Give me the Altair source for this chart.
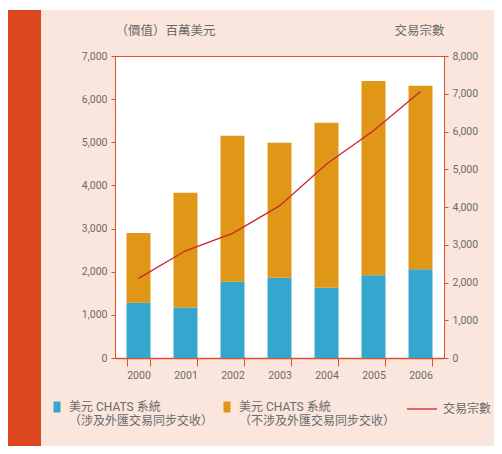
import altair as alt
import pandas as pd

years = ["2000", "2001", "2002", "2003", "2004", "2005", "2006"]
pvp_values = [1280, 1170, 1770, 1860, 1630, 1920, 2060]        # 美元 CHATS 系統（涉及外匯交易同步交收）
non_pvp_values = [1620, 2660, 3380, 3130, 3820, 4500, 4250]    # 美元 CHATS 系統（不涉及外匯交易同步交收）
transactions = [2110, 2840, 3300, 4030, 5140, 6020, 7060]     # 交易宗數

series_names = [
    "美元 CHATS 系統|（涉及外匯交易同步交收）",
    "美元 CHATS 系統|（不涉及外匯交易同步交收）",
]
line_name = "交易宗數"
left_ticks = [0, 1000, 2000, 3000, 4000, 5000, 6000, 7000]
right_ticks = [0, 1000, 2000, 3000, 4000, 5000, 6000, 7000, 8000]

BLUE = "#35a7ce"
ORANGE = "#e09616"
LINE_RED = "#c8282a"
AXIS_RED = "#e0502a"
BAND_RED = "#dc471f"
PEACH = "#fae6dc"
TEXT = "#6a6a6a"
FONT = "Roboto, 'Noto Sans CJK TC', sans-serif"

rows = []
for i, y in enumerate(years):
    rows.append({"year": y, "series": series_names[0], "value": pvp_values[i], "ord": 0})
    rows.append({"year": y, "series": series_names[1], "value": non_pvp_values[i], "ord": 1})
bar_df = pd.DataFrame(rows)
line_df = pd.DataFrame({"year": years, "count": transactions, "label": [line_name] * len(years)})
one = pd.DataFrame({"k": [0]})

W, H = 329, 302

band = alt.Chart(one).mark_rect(color=BAND_RED).encode(
    x=alt.value(-107), x2=alt.value(-74), y=alt.value(-46), y2=alt.value(400)
)
strip = alt.Chart(one).mark_rect(color="white").encode(
    x=alt.value(-107), x2=alt.value(387), y=alt.value(-48), y2=alt.value(-46)
)

x_enc = alt.X(
    "year:N",
    sort=years,
    scale=alt.Scale(paddingInner=0.49, paddingOuter=0.245),
    axis=alt.Axis(
        title=None, labelAngle=0, tickBand="extent", tickSize=8, tickColor=AXIS_RED,
        domainColor=AXIS_RED, domainWidth=1.5, labelPadding=4, labelFontSize=10.5,
        labelColor=TEXT, labelFont=FONT,
    ),
)

bars = alt.Chart(bar_df).mark_bar().encode(
    x=x_enc,
    y=alt.Y(
        "value:Q",
        stack="zero",
        scale=alt.Scale(domain=[0, 7000], nice=False),
        axis=alt.Axis(
            values=left_ticks, format=",.0f", title="（價值）百萬美元", titleAngle=0,
            titleAlign="left", titleX=0, titleY=-26, titleBaseline="middle",
            titleFontSize=12.5, titleFontWeight="normal", titleColor=TEXT, titleFont=FONT,
            tickSize=4, tickColor=AXIS_RED, domainColor=AXIS_RED, labelPadding=4,
            labelFontSize=10.5, labelColor=TEXT, labelFont=FONT, grid=False,
        ),
    ),
    color=alt.Color(
        "series:N",
        scale=alt.Scale(domain=series_names, range=[BLUE, ORANGE]),
        legend=alt.Legend(
            title=None, orient="none", legendX=-64, legendY=345, direction="horizontal",
            symbolType="M-0.64,-1H0.64V1H-0.64Z", symbolSize=121, symbolStrokeWidth=0,
            labelExpr="split(datum.label, '|')", labelFontSize=12, labelColor=TEXT,
            labelFont=FONT, labelOffset=6, columnPadding=7, padding=0, labelLimit=300,
            symbolOffset=0,
        ),
    ),
    order=alt.Order("ord:Q"),
)

line = alt.Chart(line_df).mark_line(strokeWidth=1.3).encode(
    x=alt.X("year:N", sort=years),
    y=alt.Y(
        "count:Q",
        scale=alt.Scale(domain=[0, 8000], nice=False),
        axis=alt.Axis(
            orient="right", values=right_ticks, format=",.0f", title="交易宗數", titleAngle=0,
            titleAlign="right", titleX=0, titleY=-26, titleBaseline="middle",
            titleFontSize=12.5, titleFontWeight="normal", titleColor=TEXT, titleFont=FONT,
            tickSize=4, tickColor=AXIS_RED, domainColor=AXIS_RED, labelPadding=4,
            labelFontSize=10.5, labelColor=TEXT, labelFont=FONT, grid=False,
        ),
    ),
    stroke=alt.Stroke(
        "label:N",
        scale=alt.Scale(domain=[line_name], range=[LINE_RED]),
        legend=alt.Legend(
            title=None, orient="none", legendX=291, legendY=337, symbolType="stroke",
            symbolSize=900, symbolStrokeWidth=1.3, labelFontSize=12, labelColor=TEXT,
            labelFont=FONT, labelOffset=5, padding=0, symbolOffset=0,
        ),
    ),
)

chart = (
    alt.layer(band, strip, bars, line)
    .resolve_scale(y="independent")
    .properties(
        width=W, height=H,
        autosize=alt.AutoSizeParams(type="none"),
        padding={"left": 107, "top": 48, "right": 50, "bottom": 88},
        background=PEACH,
    )
    .configure_view(fill="white", stroke=AXIS_RED, strokeWidth=1)
)

chart.save("out.html", embed_options={"renderer": "svg", "actions": False})
